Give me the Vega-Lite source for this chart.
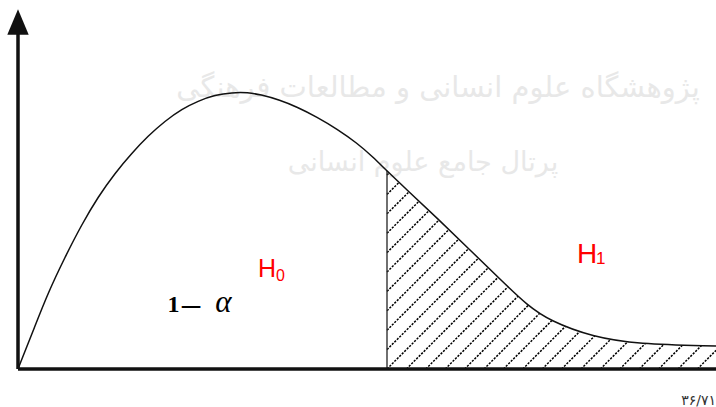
{
  "$schema": "https://vega.github.io/schema/vega-lite/v6.json",
  "width": 698,
  "height": 361,
  "autosize": {"type": "none"},
  "padding": {"left": 18, "top": 8, "right": 0, "bottom": 38},
  "background": "white",
  "config": {"view": {"stroke": null}},
  "datasets": {
    "curve": [
      {"x": 0, "y": 0}, {"x": 17, "y": 43}, {"x": 30, "y": 76}, {"x": 47, "y": 112},
      {"x": 64, "y": 145}, {"x": 80, "y": 172}, {"x": 97, "y": 196}, {"x": 114, "y": 216},
      {"x": 130, "y": 233}, {"x": 147, "y": 248}, {"x": 164, "y": 260}, {"x": 180, "y": 268},
      {"x": 197, "y": 274}, {"x": 214, "y": 276.5}, {"x": 230, "y": 276.5}, {"x": 242, "y": 274.5},
      {"x": 262, "y": 269}, {"x": 279, "y": 262}, {"x": 299, "y": 252}, {"x": 319, "y": 240},
      {"x": 339, "y": 226}, {"x": 355, "y": 212}, {"x": 369, "y": 198}, {"x": 389, "y": 179},
      {"x": 419, "y": 151}, {"x": 452, "y": 119}, {"x": 485, "y": 87}, {"x": 509, "y": 64},
      {"x": 532, "y": 48}, {"x": 575, "y": 32}, {"x": 619, "y": 25}, {"x": 698, "y": 23}
    ],
    "hatch": [
      {"x": 369, "y": 194, "x2": 380, "y2": 205},
      {"x": 369, "y": 174.6, "x2": 399.4, "y2": 205},
      {"x": 369, "y": 155.2, "x2": 418.8, "y2": 205},
      {"x": 369, "y": 135.8, "x2": 438.2, "y2": 205},
      {"x": 369, "y": 116.4, "x2": 457.6, "y2": 205},
      {"x": 369, "y": 97, "x2": 477, "y2": 205},
      {"x": 369, "y": 77.6, "x2": 496.4, "y2": 205},
      {"x": 369, "y": 58.2, "x2": 515.8, "y2": 205},
      {"x": 369, "y": 38.8, "x2": 535.2, "y2": 205},
      {"x": 369, "y": 19.4, "x2": 554.6, "y2": 205},
      {"x": 369, "y": 0, "x2": 574, "y2": 205},
      {"x": 388.4, "y": 0, "x2": 593.4, "y2": 205},
      {"x": 407.8, "y": 0, "x2": 612.8, "y2": 205},
      {"x": 427.2, "y": 0, "x2": 632.2, "y2": 205},
      {"x": 446.6, "y": 0, "x2": 651.6, "y2": 205},
      {"x": 466, "y": 0, "x2": 671, "y2": 205},
      {"x": 485.4, "y": 0, "x2": 690.4, "y2": 205},
      {"x": 504.8, "y": 0, "x2": 698, "y2": 193.2},
      {"x": 524.2, "y": 0, "x2": 698, "y2": 173.8},
      {"x": 543.6, "y": 0, "x2": 698, "y2": 154.4},
      {"x": 563, "y": 0, "x2": 698, "y2": 135},
      {"x": 582.4, "y": 0, "x2": 698, "y2": 115.6},
      {"x": 601.8, "y": 0, "x2": 698, "y2": 96.2},
      {"x": 621.2, "y": 0, "x2": 698, "y2": 76.8},
      {"x": 640.6, "y": 0, "x2": 698, "y2": 57.4},
      {"x": 660, "y": 0, "x2": 698, "y2": 38},
      {"x": 679.4, "y": 0, "x2": 698, "y2": 18.6}
    ],
    "cutoff": [{"x": 369, "y": 0, "x2": 369, "y2": 198}],
    "axes": [
      {"x": 0, "y": 0, "x2": 698, "y2": 0},
      {"x": 0, "y": 0, "x2": 0, "y2": 346}
    ],
    "arrow": [{"x": 0, "y": 347}],
    "watermark": [
      {"text": "پژوهشگاه علوم انسانی و مطالعات فرهنگی", "x": 420, "y": 272, "size": 29},
      {"text": "پرتال جامع علوم انسانی", "x": 405, "y": 198, "size": 27}
    ],
    "labels": [
      {"part": "H", "text": "H", "x": 240, "y": 92},
      {"part": "sub", "text": "0", "x": 258, "y": 88},
      {"part": "H1", "text": "H", "x": 559, "y": 106},
      {"part": "sub1", "text": "1", "x": 578, "y": 105},
      {"part": "one", "text": "1", "x": 155.5, "y": 57},
      {"part": "minus", "text": "−", "x": 173, "y": 49},
      {"part": "alpha", "text": "α", "x": 205.5, "y": 57},
      {"part": "page", "text": "۳۶/۷۱", "x": 698, "y": -36}
    ]
  },
  "encoding": {
    "x": {"field": "x", "type": "quantitative", "scale": {"domain": [0, 698], "nice": false, "zero": false}, "axis": null},
    "y": {"field": "y", "type": "quantitative", "scale": {"domain": [0, 361], "nice": false, "zero": false}, "axis": null}
  },
  "layer": [
    {
      "data": {"name": "hatch"},
      "mark": {"type": "rule", "color": "#000", "strokeWidth": 1.5, "strokeDash": [2.2, 1.3]},
      "encoding": {"x2": {"field": "x2"}, "y2": {"field": "y2"}}
    },
    {
      "data": {"name": "curve"},
      "mark": {"type": "area", "color": "white", "interpolate": "basis", "opacity": 1},
      "encoding": {"y2": {"datum": 361}}
    },
    {
      "data": {"name": "watermark"},
      "mark": {"type": "text", "align": "center", "baseline": "alphabetic", "font": "DejaVu Sans", "color": "#dcdcdc", "opacity": 0.65},
      "encoding": {"text": {"field": "text"}, "size": {"field": "size", "type": "quantitative", "scale": null}}
    },
    {
      "data": {"name": "cutoff"},
      "mark": {"type": "rule", "color": "#333", "strokeWidth": 1.4},
      "encoding": {"x2": {"field": "x2"}, "y2": {"field": "y2"}}
    },
    {
      "data": {"name": "curve"},
      "mark": {"type": "line", "color": "#111", "strokeWidth": 1.5, "interpolate": "basis"},
      "encoding": {}
    },
    {
      "data": {"name": "axes"},
      "mark": {"type": "rule", "color": "#111", "strokeWidth": 3.5},
      "encoding": {"x2": {"field": "x2"}, "y2": {"field": "y2"}}
    },
    {
      "data": {"name": "arrow"},
      "mark": {"type": "point", "shape": "M-0.84,1L0.84,1L0,-1Z", "size": 650, "filled": true, "color": "#111", "opacity": 1},
      "encoding": {}
    },
    {
      "data": {"name": "labels"},
      "transform": [{"filter": "datum.part === 'H' || datum.part === 'H1'"}],
      "mark": {"type": "text", "align": "left", "baseline": "alphabetic", "font": "Liberation Sans", "color": "#ff0000"},
      "encoding": {
        "text": {"field": "text"},
        "size": {"condition": {"test": "datum.part === 'H'", "value": 25}, "value": 28}
      }
    },
    {
      "data": {"name": "labels"},
      "transform": [{"filter": "datum.part === 'sub' || datum.part === 'sub1'"}],
      "mark": {"type": "text", "align": "left", "baseline": "alphabetic", "font": "Liberation Sans", "color": "#ff0000"},
      "encoding": {
        "text": {"field": "text"},
        "size": {"condition": {"test": "datum.part === 'sub'", "value": 16}, "value": 17}
      }
    },
    {
      "data": {"name": "labels"},
      "transform": [{"filter": "datum.part === 'one'"}],
      "mark": {"type": "text", "align": "center", "baseline": "alphabetic", "font": "Liberation Serif", "fontWeight": "bold", "fontSize": 24, "color": "#000"},
      "encoding": {"text": {"field": "text"}}
    },
    {
      "data": {"name": "labels"},
      "transform": [{"filter": "datum.part === 'minus'"}],
      "mark": {"type": "text", "align": "center", "baseline": "alphabetic", "font": "Liberation Serif", "fontSize": 40, "color": "#000"},
      "encoding": {"text": {"field": "text"}}
    },
    {
      "data": {"name": "labels"},
      "transform": [{"filter": "datum.part === 'alpha'"}],
      "mark": {"type": "text", "align": "center", "baseline": "alphabetic", "font": "Liberation Serif", "fontStyle": "italic", "fontSize": 31, "color": "#000"},
      "encoding": {"text": {"field": "text"}}
    },
    {
      "data": {"name": "labels"},
      "transform": [{"filter": "datum.part === 'page'"}],
      "mark": {"type": "text", "align": "right", "baseline": "alphabetic", "font": "DejaVu Sans", "fontSize": 14, "color": "#333"},
      "encoding": {"text": {"field": "text"}}
    }
  ]
}
